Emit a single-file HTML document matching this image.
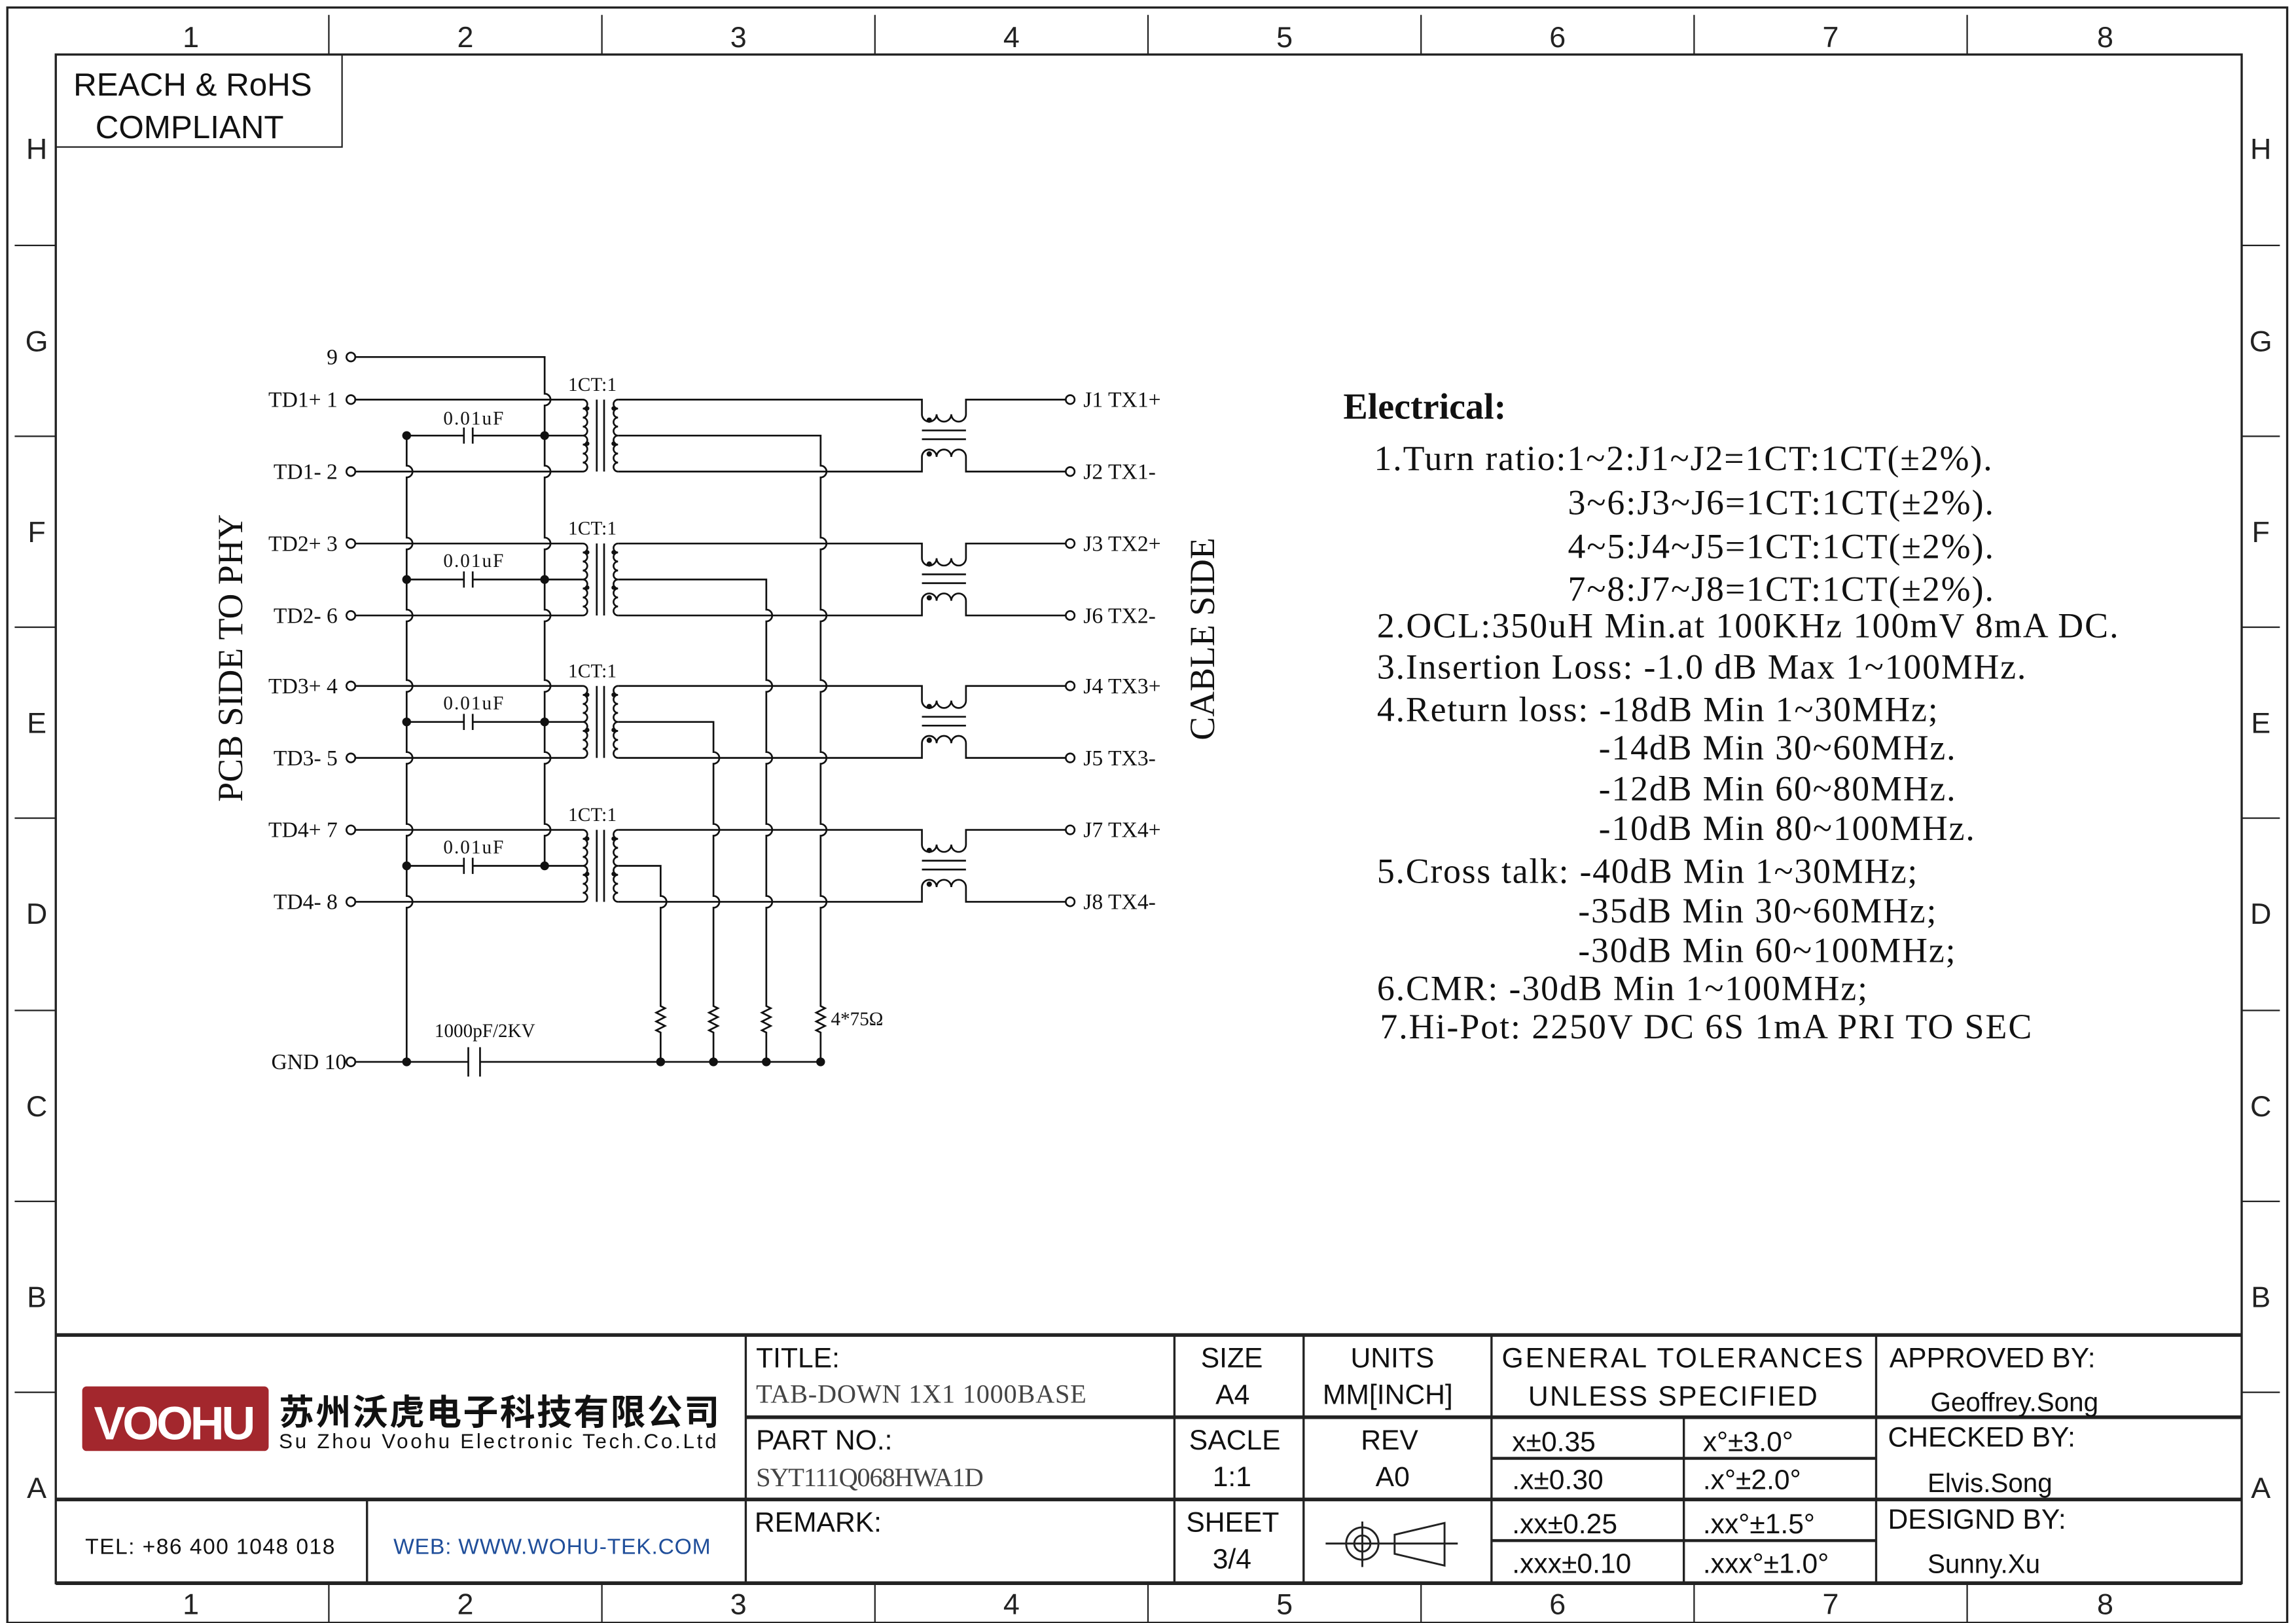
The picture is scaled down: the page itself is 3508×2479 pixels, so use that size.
<!DOCTYPE html>
<html><head><meta charset="utf-8"><style>
html,body{margin:0;padding:0;background:#fff}
svg{display:block}
.s{font-family:"Liberation Serif",serif}
.a{font-family:"Liberation Sans","Noto Sans CJK SC",sans-serif}
</style></head><body>
<svg width="3508" height="2479" viewBox="0 0 1564 1105" xmlns="http://www.w3.org/2000/svg">
<rect width="1564" height="1105" fill="#fff"/>
<!-- frame -->
<g fill="none" stroke="#222">
<rect x="5" y="5" width="1553" height="1100" stroke-width="1.5"/>
<rect x="38" y="37" width="1489" height="1041" stroke-width="1.5"/>
<path stroke-width="1" d="M224 10V37M410 10V37M596 10V37M782 10V37M968 10V37M1154 10V37M1340 10V37
M224 1078V1105M410 1078V1105M596 1078V1105M782 1078V1105M968 1078V1105M1154 1078V1105M1340 1078V1105
M10 167H38M10 297H38M10 427H38M10 557H38M10 688H38M10 818H38M10 948H38
M1527 167H1553M1527 297H1553M1527 427H1553M1527 557H1553M1527 688H1553M1527 818H1553M1527 948H1553"/>
<rect x="38" y="37" width="195" height="63" stroke-width="1"/>
</g>
<g class="a" font-size="20" text-anchor="middle" fill="#222">
<text x="130" y="32">1</text><text x="317" y="32">2</text><text x="503" y="32">3</text><text x="689" y="32">4</text><text x="875" y="32">5</text><text x="1061" y="32">6</text><text x="1247" y="32">7</text><text x="1434" y="32">8</text>
<text x="130" y="1099">1</text><text x="317" y="1099">2</text><text x="503" y="1099">3</text><text x="689" y="1099">4</text><text x="875" y="1099">5</text><text x="1061" y="1099">6</text><text x="1247" y="1099">7</text><text x="1434" y="1099">8</text>
<text x="25" y="108">H</text><text x="25" y="239">G</text><text x="25" y="369">F</text><text x="25" y="499">E</text><text x="25" y="629">D</text><text x="25" y="760">C</text><text x="25" y="890">B</text><text x="25" y="1020">A</text>
<text x="1540" y="108">H</text><text x="1540" y="239">G</text><text x="1540" y="369">F</text><text x="1540" y="499">E</text><text x="1540" y="629">D</text><text x="1540" y="760">C</text><text x="1540" y="890">B</text><text x="1540" y="1020">A</text>
</g>
<g class="a" font-size="22" fill="#111">
<text x="50" y="65">REACH &amp; RoHS</text><text x="65" y="94">COMPLIANT</text>
</g>

<!-- schematic -->
<defs>
<g id="pair" fill="none" stroke="#111" stroke-width="1.2">
<path d="M242 0H397M242 49H397"/>
<path d="M397 0a3.06 3.06 0 0 1 0 6.125a3.06 3.06 0 0 1 0 6.125a3.06 3.06 0 0 1 0 6.125a3.06 3.06 0 0 1 0 6.125a3.06 3.06 0 0 1 0 6.125a3.06 3.06 0 0 1 0 6.125a3.06 3.06 0 0 1 0 6.125a3.06 3.06 0 0 1 0 6.125"/>
<path d="M421 0a3.06 3.06 0 0 0 0 6.125a3.06 3.06 0 0 0 0 6.125a3.06 3.06 0 0 0 0 6.125a3.06 3.06 0 0 0 0 6.125a3.06 3.06 0 0 0 0 6.125a3.06 3.06 0 0 0 0 6.125a3.06 3.06 0 0 0 0 6.125a3.06 3.06 0 0 0 0 6.125"/>
<path d="M406.5 0V49M411.5 0V49"/>
<path d="M277 24.5H316M322 24.5H397M316 19V30M322 19V30"/>
<path d="M421 0H628V10a5 5 0 0 0 10 0a5 5 0 0 0 10 0a5 5 0 0 0 10 0V0H726"/>
<path d="M421 49H628V39a5 5 0 0 1 10 0a5 5 0 0 1 10 0a5 5 0 0 1 10 0V49H726"/>
<path d="M628 21H658M628 27H658"/>
<circle cx="239" cy="0" r="3"/><circle cx="239" cy="49" r="3"/>
<circle cx="729" cy="0" r="3"/><circle cx="729" cy="49" r="3"/>
</g>
<g id="dots" fill="#111">
<circle cx="277" cy="24.5" r="3"/><circle cx="371" cy="24.5" r="3"/>
<circle cx="400" cy="6" r="1.5"/><circle cx="400" cy="30" r="1.5"/>
<circle cx="418" cy="6" r="1.5"/><circle cx="418" cy="30" r="1.5"/>
<circle cx="633" cy="14" r="1.8"/><circle cx="633" cy="37" r="1.8"/>
</g>
</defs>
<use href="#pair" transform="translate(0,272)"/><use href="#dots" transform="translate(0,272)"/>
<use href="#pair" transform="translate(0,370)"/><use href="#dots" transform="translate(0,370)"/>
<use href="#pair" transform="translate(0,467)"/><use href="#dots" transform="translate(0,467)"/>
<use href="#pair" transform="translate(0,565)"/><use href="#dots" transform="translate(0,565)"/>

<g fill="none" stroke="#111" stroke-width="1.2">
<circle cx="239" cy="243" r="3"/><circle cx="239" cy="723" r="3"/>
<path d="M277 296V317a4 4 0 0 1 0 8V366a4 4 0 0 1 0 8V415a4 4 0 0 1 0 8V463a4 4 0 0 1 0 8V512a4 4 0 0 1 0 8V561a4 4 0 0 1 0 8V610a4 4 0 0 1 0 8V723"/>
<path d="M242 243H371V268a4 4 0 0 1 0 8V317a4 4 0 0 1 0 8V366a4 4 0 0 1 0 8V415a4 4 0 0 1 0 8V463a4 4 0 0 1 0 8V512a4 4 0 0 1 0 8V561a4 4 0 0 1 0 8V589"/>
<path d="M421 296.5H559V317a4 4 0 0 1 0 8V366a4 4 0 0 1 0 8V415a4 4 0 0 1 0 8V463a4 4 0 0 1 0 8V512a4 4 0 0 1 0 8V561a4 4 0 0 1 0 8V610a4 4 0 0 1 0 8V685l3 1.5l-6 3l6 3l-6 3l6 3l-6 3l3 1.5V723"/>
<path d="M421 394.5H522V415a4 4 0 0 1 0 8V463a4 4 0 0 1 0 8V512a4 4 0 0 1 0 8V561a4 4 0 0 1 0 8V610a4 4 0 0 1 0 8V685l3 1.5l-6 3l6 3l-6 3l6 3l-6 3l3 1.5V723"/>
<path d="M421 491.5H486V512a4 4 0 0 1 0 8V561a4 4 0 0 1 0 8V610a4 4 0 0 1 0 8V685l3 1.5l-6 3l6 3l-6 3l6 3l-6 3l3 1.5V723"/>
<path d="M421 589.5H450V610a4 4 0 0 1 0 8V685l3 1.5l-6 3l6 3l-6 3l6 3l-6 3l3 1.5V723"/>
<path d="M242 723H319M327 723H559M319 713V733M327 713V733"/>
</g>
<g fill="#111">
<circle cx="277" cy="723" r="3"/><circle cx="450" cy="723" r="3"/><circle cx="486" cy="723" r="3"/><circle cx="522" cy="723" r="3"/><circle cx="559" cy="723" r="3"/>
</g>
<g class="s" font-size="15" fill="#111">
<g text-anchor="end">
<text x="230" y="248">9</text>
<text x="230" y="277">TD1+ 1</text><text x="230" y="326">TD1- 2</text>
<text x="230" y="375">TD2+ 3</text><text x="230" y="424">TD2- 6</text>
<text x="230" y="472">TD3+ 4</text><text x="230" y="521">TD3- 5</text>
<text x="230" y="570">TD4+ 7</text><text x="230" y="619">TD4- 8</text>
<text x="236" y="728">GND 10</text>
</g>
<text x="738" y="277">J1 TX1+</text><text x="738" y="326">J2 TX1-</text>
<text x="738" y="375">J3 TX2+</text><text x="738" y="424">J6 TX2-</text>
<text x="738" y="472">J4 TX3+</text><text x="738" y="521">J5 TX3-</text>
<text x="738" y="570">J7 TX4+</text><text x="738" y="619">J8 TX4-</text>
<g font-size="13">
<text x="387" y="266" textLength="33">1CT:1</text><text x="387" y="364" textLength="33">1CT:1</text><text x="387" y="461" textLength="33">1CT:1</text><text x="387" y="559" textLength="33">1CT:1</text>
<text x="302" y="289" textLength="41">0.01uF</text><text x="302" y="386" textLength="41">0.01uF</text><text x="302" y="483" textLength="41">0.01uF</text><text x="302" y="581" textLength="41">0.01uF</text>
<text x="296" y="706">1000pF/2KV</text><text x="566" y="698">4*75Ω</text>
</g>
<text font-size="24" transform="translate(165,448) rotate(-90)" text-anchor="middle">PCB SIDE TO PHY</text>
<text font-size="24" transform="translate(827,435) rotate(-90)" text-anchor="middle">CABLE SIDE</text>
</g>

<!-- electrical -->
<g class="s" fill="#111" font-size="24">
<text x="915" y="285" font-weight="bold" font-size="25">Electrical:</text>
<text x="936" y="320" textLength="421">1.Turn ratio:1~2:J1~J2=1CT:1CT(±2%).</text>
<text x="1068" y="350" textLength="290">3~6:J3~J6=1CT:1CT(±2%).</text>
<text x="1068" y="380" textLength="290">4~5:J4~J5=1CT:1CT(±2%).</text>
<text x="1068" y="409" textLength="290">7~8:J7~J8=1CT:1CT(±2%).</text>
<text x="938" y="434" textLength="505">2.OCL:350uH Min.at 100KHz 100mV 8mA DC.</text>
<text x="938" y="462" textLength="442">3.Insertion Loss: -1.0 dB Max 1~100MHz.</text>
<text x="938" y="491" textLength="382">4.Return loss: -18dB Min 1~30MHz;</text>
<text x="1089" y="517" textLength="243">-14dB Min 30~60MHz.</text>
<text x="1089" y="545" textLength="243">-12dB Min 60~80MHz.</text>
<text x="1089" y="572" textLength="256">-10dB Min 80~100MHz.</text>
<text x="938" y="601" textLength="368">5.Cross talk: -40dB Min 1~30MHz;</text>
<text x="1075" y="628" textLength="244">-35dB Min 30~60MHz;</text>
<text x="1075" y="655" textLength="257">-30dB Min 60~100MHz;</text>
<text x="938" y="681" textLength="334">6.CMR: -30dB Min 1~100MHz;</text>
<text x="940" y="707" textLength="444">7.Hi-Pot: 2250V DC 6S 1mA PRI TO SEC</text>
</g>

<!-- title block -->
<g fill="none" stroke="#222">
<path stroke-width="2.5" d="M38 909H1527M508 965H1527M38 1021H1527M38 1078H1527"/>
<path stroke-width="1.5" d="M508 909V1078M800 909V1078M888 909V1078M1016 909V1078M1278 909V1078M250 1021V1078M1147 965V1078"/>
<path stroke-width="2" d="M1016 993H1278M1016 1049H1278"/>
<circle cx="928" cy="1051" r="11" stroke-width="1.3"/><circle cx="928" cy="1051" r="5.5" stroke-width="1.3"/>
<path stroke-width="1.3" d="M903 1051H993M928 1036V1067M950 1045L984 1037V1066L950 1058Z"/>
</g>
<rect x="56" y="944" width="127" height="44" rx="3" fill="#a3272d"/>
<text x="119" y="980" class="a" font-size="32" font-weight="bold" fill="#fff" text-anchor="middle" textLength="110">VOOHU</text>
<text x="190" y="970" class="a" font-size="24" font-weight="bold" fill="#111" textLength="300">苏州沃虎电子科技有限公司</text>
<text x="190" y="986" class="a" font-size="14" fill="#111" textLength="298">Su Zhou Voohu Electronic Tech.Co.Ltd</text>
<g class="a" font-size="19" fill="#111">
<text x="515" y="931">TITLE:</text>
<text x="818" y="931">SIZE</text><text x="828" y="956">A4</text>
<text x="920" y="931">UNITS</text><text x="901" y="956">MM[INCH]</text>
<text x="1023" y="931" textLength="246">GENERAL TOLERANCES</text><text x="1041" y="957" textLength="197">UNLESS SPECIFIED</text>
<text x="1287" y="931">APPROVED BY:</text><text x="1315" y="961" font-size="18">Geoffrey.Song</text>
<text x="515" y="987">PART NO.:</text>
<text x="810" y="987">SACLE</text><text x="826" y="1012">1:1</text>
<text x="927" y="987">REV</text><text x="937" y="1012">A0</text>
<text x="1030" y="988">x±0.35</text><text x="1160" y="988">x°±3.0°</text>
<text x="1030" y="1014">.x±0.30</text><text x="1160" y="1014">.x°±2.0°</text>
<text x="1286" y="985">CHECKED BY:</text><text x="1313" y="1016" font-size="18">Elvis.Song</text>
<text x="514" y="1043">REMARK:</text>
<text x="808" y="1043">SHEET</text><text x="826" y="1068">3/4</text>
<text x="1030" y="1044">.xx±0.25</text><text x="1160" y="1044">.xx°±1.5°</text>
<text x="1030" y="1071">.xxx±0.10</text><text x="1160" y="1071">.xxx°±1.0°</text>
<text x="1286" y="1041">DESIGND BY:</text><text x="1313" y="1071" font-size="18">Sunny.Xu</text>
<text x="58" y="1058" font-size="15" textLength="170">TEL: +86 400 1048 018</text>
<text x="268" y="1058" font-size="15" fill="#1f4e9a" textLength="216">WEB: WWW.WOHU-TEK.COM</text>
</g>
<g class="s" font-size="18" fill="#444">
<text x="515" y="955" textLength="225">TAB-DOWN 1X1 1000BASE</text>
<text x="515" y="1012" textLength="155">SYT111Q068HWA1D</text>
</g>
</svg>
</body></html>
